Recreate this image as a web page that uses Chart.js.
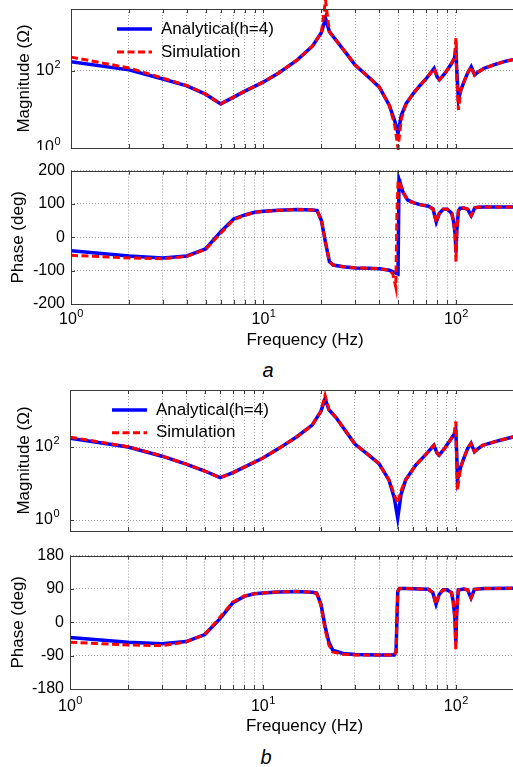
<!DOCTYPE html>
<html>
<head>
<meta charset="utf-8">
<script src="https://cdn.jsdelivr.net/npm/chart.js@4.4.0/dist/chart.umd.min.js"></script>
<style>
  body { margin: 0; width: 513px; height: 767px; overflow: hidden; background: #fff; position: relative; }
  canvas { position: absolute; left: 0; }
  .tag { position: absolute; width: 20px; text-align: center; font: italic 20px "Liberation Sans", Arial, sans-serif; line-height: 20px; }
</style>
</head>
<body>
<canvas id="magA" width="560" height="150" style="top:0px"></canvas>
<canvas id="phA" width="560" height="196" style="top:155px"></canvas>
<div class="tag" style="left:258px; top:360px">a</div>
<canvas id="magB" width="560" height="152" style="top:381px"></canvas>
<canvas id="phB" width="560" height="197" style="top:540px"></canvas>
<div class="tag" style="left:256px; top:747px">b</div>

<script>
const FONT = '"Liberation Sans", Arial, Helvetica, sans-serif';
const BLUE = '#0000ff';
const RED = '#ff0000';
const GRID = 'rgba(0,0,0,0.38)';

// x grid positions (Hz)
const xGrid = [1, 2, 3, 4, 5, 6, 7, 8, 9, 10, 20, 30, 40, 50, 60, 70, 80, 90, 100, 200];

// ---- figure a: magnitude (ohm) ----
const fMagA = [1, 2, 3, 4, 5, 6, 7, 8, 9, 10, 12, 15, 18, 20, 21, 22, 24, 27, 30, 35, 40, 45, 48, 50, 52, 55, 60, 65, 70, 77, 80, 82, 88, 95, 98, 100, 101, 103, 106, 110, 115, 120, 125, 130, 140, 160, 180, 200];
const magA_ana = [174, 107, 62, 41, 25, 14, 21, 30, 40, 52, 89, 195, 447, 1000, 2340, 1050, 600, 282, 141, 71, 38, 13, 5.2, 2.4, 7.1, 14, 26, 42, 63, 117, 69, 59, 89, 158, 214, 316, 100, 18, 32, 52, 89, 129, 79, 93, 117, 148, 178, 200];
const magA_sim = [229, 120, 65, 42, 25, 14, 21, 30, 40, 52, 89, 195, 447, 1000, 6900, 1050, 600, 282, 141, 71, 38, 13, 4, 1, 5.6, 14, 26, 42, 63, 117, 69, 59, 89, 158, 214, 708, 60, 9.8, 32, 52, 89, 129, 79, 93, 117, 148, 178, 200];

// ---- figure a: phase (deg) ----
const fPhA = [1, 2, 3, 4, 5, 6, 7, 8, 9, 10, 12, 15, 18, 19, 20, 21, 22, 23, 26, 30, 35, 40, 45, 47, 48.7, 49.3, 50, 50.6, 51, 53, 56, 60, 65, 72, 76, 79, 82, 86, 90, 95, 97, 99, 100, 101, 103, 105, 110, 115, 120, 123, 125, 130, 140, 160, 200];
const phA_ana = [-40, -56, -62, -56, -35, 17, 55, 67, 75, 78, 81, 83, 82, 80, 50, -16, -73, -83, -88, -92, -93, -94, -99, -103, -107, -109, -110, 174, 168, 136, 112, 104, 98, 93, 85, 46, 72, 84, 84, 72, 50, 10, -45, 20, 79, 87, 88, 84, 65, 78, 88, 90, 91, 91, 91];
const phA_sim = [-54, -62, -64, -57, -36, 12, 53, 66, 75, 78, 81, 83, 82, 80, 50, -16, -73, -83, -88, -92, -93, -94, -99, -110, -150, 60, 165, 170, 165, 136, 112, 104, 98, 93, 85, 46, 72, 84, 84, 72, 50, 10, -73, 20, 79, 87, 88, 84, 65, 78, 88, 90, 91, 91, 91];

// ---- figure b: magnitude (ohm) ----
const fMagB = [1, 2, 3, 4, 5, 6, 7, 8, 9, 10, 12, 15, 18, 20, 21, 22, 24, 27, 30, 35, 40, 45, 48, 50, 52, 55, 62, 70, 77, 80, 82, 88, 95, 98, 100, 101, 102, 106, 110, 115, 120, 125, 130, 138, 160, 180, 200];
const magB_ana = [174, 100, 56, 34, 22, 14.5, 20, 28, 38, 50, 89, 191, 398, 955, 2140, 1050, 631, 263, 120, 63, 35, 12.6, 4, 1.12, 5, 12.6, 32, 63, 112, 68, 60, 95, 174, 224, 295, 79, 12.6, 28, 49, 89, 126, 74, 89, 112, 141, 166, 191];
const magB_sim = [186, 102, 57, 34, 22, 14.5, 20, 28, 38, 50, 89, 191, 398, 955, 2630, 1050, 631, 263, 120, 63, 35, 12.6, 5, 2.9, 6.3, 12.6, 32, 63, 112, 68, 60, 95, 174, 224, 501, 40, 6.6, 28, 49, 89, 126, 74, 89, 112, 141, 166, 191];

// ---- figure b: phase (deg) ----
const fPhB = [1, 2, 3, 4, 5, 6, 7, 8, 9, 10, 12, 15, 18, 19, 20, 21, 22, 23, 26, 30, 40, 48, 49, 50, 51, 55, 65, 72, 76, 79, 82, 86, 90, 95, 97, 99, 100, 101, 103, 110, 115, 120, 123, 125, 140, 200];
const phB_ana = [-41, -54, -58, -52, -33, 10, 53, 70, 77, 79, 82, 83, 81, 79, 49, -11, -54, -75, -84, -87, -88, -88, -80, 83, 91, 91, 90, 89, 80, 49, 75, 88, 88, 80, 56, 10, -54, 20, 87, 90, 88, 66, 80, 89, 91, 92];
const phB_sim = [-54, -61, -63, -53, -33, 14, 55, 71, 77, 79, 82, 83, 81, 78, 45, -20, -62, -80, -86, -88, -88, -88, -80, 83, 91, 91, 90, 89, 80, 49, 75, 88, 88, 80, 56, 10, -75, 20, 87, 90, 88, 66, 80, 89, 91, 92];

function pts(f, v) {
  return f.map((x, i) => ({ x: x, y: v[i] }));
}

function series(label, f, v, color, dash, order, clip) {
  return {
    label: label,
    data: pts(f, v),
    borderColor: color,
    borderWidth: color === BLUE ? 3.5 : 3,
    borderDash: dash,
    pointRadius: 0,
    tension: 0,
    fill: false,
    order: order,
    clip: clip
  };
}

function drawPow(ctx, exp, x, y, align) {
  ctx.font = '16px ' + FONT;
  const wb = ctx.measureText('10').width;
  ctx.font = '11px ' + FONT;
  const we = ctx.measureText(String(exp)).width;
  const x0 = align === 'center' ? x - (wb + we) / 2 : x - wb - we;
  ctx.textAlign = 'left';
  ctx.font = '16px ' + FONT;
  ctx.fillText('10', x0, y);
  ctx.font = '11px ' + FONT;
  ctx.fillText(String(exp), x0 + wb + 0.5, y - 6);
}

// frame, inward ticks, 10^n labels and the line legend
const bodeDecor = {
  id: 'bodeDecor',
  afterDraw(chart, args, o) {
    const { ctx, chartArea: a, scales } = chart;
    ctx.save();
    ctx.strokeStyle = '#3a3a3a';
    ctx.lineWidth = 1;
    ctx.setLineDash([]);
    ctx.strokeRect(Math.round(a.left) + 0.5, Math.round(a.top) + 0.5, a.right - a.left, Math.round(a.bottom - a.top));
    ctx.beginPath();
    scales.x.ticks.forEach(t => {
      const x = Math.round(scales.x.getPixelForValue(t.value)) + 0.5;
      ctx.moveTo(x, a.top); ctx.lineTo(x, a.top + 4);
      ctx.moveTo(x, a.bottom); ctx.lineTo(x, a.bottom - 4);
    });
    scales.y.ticks.forEach(t => {
      const y = Math.round(scales.y.getPixelForValue(t.value)) + 0.5;
      ctx.moveTo(a.left, y); ctx.lineTo(a.left + 4, y);
    });
    ctx.stroke();

    ctx.fillStyle = '#000';
    ctx.textBaseline = 'middle';
    if (o.xLabelY) {
      scales.x.ticks.forEach(t => {
        const e = Math.log10(t.value);
        if (Math.abs(e - Math.round(e)) < 1e-9) {
          drawPow(ctx, Math.round(e), scales.x.getPixelForValue(t.value), a.bottom + o.xLabelY, 'center');
        }
      });
    }
    if (o.yPow) {
      scales.y.ticks.forEach(t => {
        drawPow(ctx, Math.round(Math.log10(t.value)), a.left - 11, scales.y.getPixelForValue(t.value), 'right');
      });
    }
    if (o.legend) {
      const L = o.legend;
      chart.data.datasets.forEach((ds, i) => {
        const y = a.top + L.dy + i * L.gap;
        const x = a.left + L.dx;
        ctx.beginPath();
        ctx.strokeStyle = ds.borderColor;
        ctx.lineWidth = ds.borderWidth;
        ctx.setLineDash(ds.borderDash || []);
        ctx.moveTo(x, y); ctx.lineTo(x + 35, y);
        ctx.stroke();
        ctx.setLineDash([]);
        ctx.font = '17px ' + FONT;
        ctx.textAlign = 'left';
        ctx.fillText(ds.label, x + 44, y);
      });
    }
    ctx.restore();
  }
};

function makeChart(id, datasets, cfg) {
  const yScale = cfg.mag ? {
    type: 'logarithmic',
    min: cfg.yMin,
    max: cfg.yMax,
    afterBuildTicks: s => { s.ticks = [{ value: 1 }, { value: 100 }]; },
    ticks: { display: false },
    title: { display: true, text: 'Magnitude (\u03A9)', color: '#000', font: { family: FONT, size: 17 }, padding: { top: 14, bottom: 0 } }
  } : {
    type: 'linear',
    min: -cfg.yLim,
    max: cfg.yLim,
    ticks: { stepSize: cfg.yLim / 2, color: '#000', font: { family: FONT, size: 16 }, padding: 6 },
    title: { display: true, text: 'Phase (deg)', color: '#000', font: { family: FONT, size: 17 }, padding: { top: 8, bottom: 0 } }
  };
  yScale.afterFit = s => { s.width = cfg.yW; };
  yScale.grid = { color: GRID, drawTicks: false };
  yScale.border = { display: false, dash: [1, 2] };

  return new Chart(document.getElementById(id), {
    type: 'line',
    data: { datasets: datasets },
    options: {
      responsive: false,
      animation: false,
      events: [],
      layout: { padding: { top: cfg.padTop, right: 21, left: 0, bottom: 0 } },
      plugins: {
        legend: { display: false },
        tooltip: { enabled: false },
        bodeDecor: { xLabelY: cfg.xLabelY, yPow: cfg.mag, legend: cfg.legend }
      },
      scales: {
        x: {
          type: 'logarithmic',
          min: 1,
          max: 270,
          afterBuildTicks: s => { s.ticks = xGrid.map(v => ({ value: v })); },
          afterFit: s => { s.height = cfg.xH; },
          ticks: { display: false },
          grid: { color: GRID, drawTicks: false },
          border: { display: false, dash: [1, 2] },
          title: { display: !cfg.mag, text: 'Frequency (Hz)', color: '#000', font: { family: FONT, size: 17 }, padding: 0 }
        },
        y: yScale
      }
    },
    plugins: [bodeDecor]
  });
}

makeChart('magA', [
  series('Analytical(h=4)', fMagA, magA_ana, BLUE, [], 1, true),
  series('Simulation', fMagA, magA_sim, RED, [7, 3.5], 0, false)
], { mag: true, yMin: 1, yMax: 4070, yW: 71, padTop: 9, xH: 2, legend: { dx: 46, dy: 20, gap: 23 } });

makeChart('phA', [
  series('Analytical(h=4)', fPhA, phA_ana, BLUE, [], 1, true),
  series('Simulation', fPhA, phA_sim, RED, [7, 3.5], 0, true)
], { mag: false, yLim: 200, yW: 71, padTop: 10, xH: 47, xLabelY: 15.5 });

makeChart('magB', [
  series('Analytical(h=4)', fMagB, magB_ana, BLUE, [], 1, true),
  series('Simulation', fMagB, magB_sim, RED, [7, 3.5], 0, true)
], { mag: true, yMin: 0.5, yMax: 3650, yW: 70, padTop: 9, xH: 2, legend: { dx: 42, dy: 20, gap: 22.7 } });

makeChart('phB', [
  series('Analytical(h=4)', fPhB, phB_ana, BLUE, [], 1, true),
  series('Simulation', fPhB, phB_sim, RED, [7, 3.5], 0, true)
], { mag: false, yLim: 180, yW: 70, padTop: 9, xH: 48, xLabelY: 17.5 });
</script>
</body>
</html>
